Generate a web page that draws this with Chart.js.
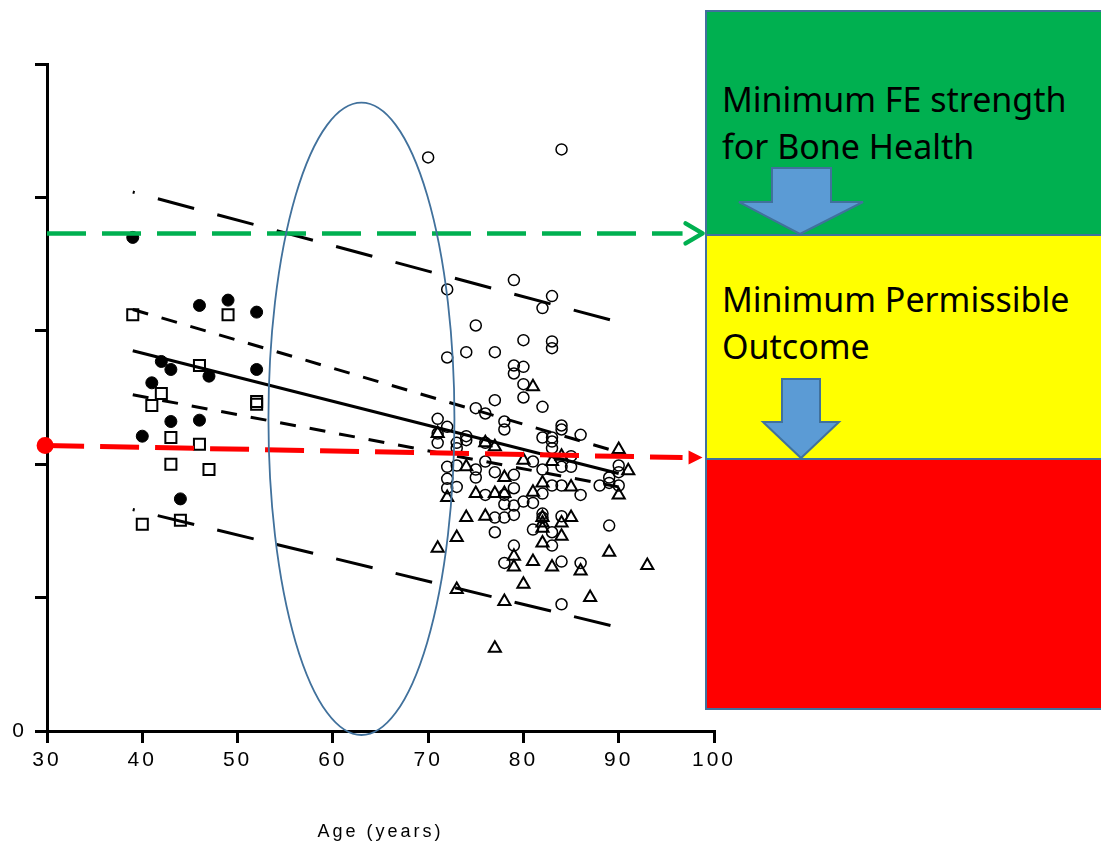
<!DOCTYPE html>
<html>
<head>
<meta charset="UTF-8">
<title>FE strength vs age</title>
<script src="https://cdn.jsdelivr.net/npm/chart.js@4"></script>
<style>
  body { margin: 0; background: #fff; }
  #wrap { position: relative; width: 1101px; height: 847px; overflow: hidden; }
  #chart { position: absolute; left: 0; top: 0; }
  .box { position: absolute; left: 705px; width: 398px; box-sizing: border-box; border: 2px solid #41719c; }
  .txt { position: absolute; left: 15px; font-family: "Noto Sans", "Open Sans", sans-serif; font-size: 34px; line-height: 47px; color: #000; }
  #arrows { position: absolute; left: 0; top: 0; }
</style>
</head>
<body>
<div id="wrap">
  <canvas id="chart" width="1101" height="847"></canvas>
  <div class="box" style="top:10px;height:226px;background:#00b050;">
    <div class="txt" style="top:64px;">Minimum FE strength<br>for Bone Health</div>
  </div>
  <div class="box" style="top:234px;height:226px;background:#ffff00;">
    <div class="txt" style="top:40px;">Minimum Permissible<br>Outcome</div>
  </div>
  <div class="box" style="top:458px;height:252px;background:#ff0000;"></div>
  <svg id="arrows" width="1101" height="847">
    <polygon points="772,168 831,168 831,202 863,202 800,234 739,202 772,202" fill="#5b9bd5" stroke="#41719c" stroke-width="2"/>
    <polygon points="782,379 820,379 820,422 839,422 801,458 763,422 782,422" fill="#5b9bd5" stroke="#41719c" stroke-width="2"/>
  </svg>
</div>
<script>
// --- data (age in years, FE strength in axis units) ---
const youngClosedAge = [39, 46, 49, 52, 42, 43, 41, 47, 52, 43, 46, 40, 44];
const youngClosedFE  = [3.70, 3.19, 3.23, 3.14, 2.77, 2.71, 2.61, 2.66, 2.71, 2.32, 2.33, 2.21, 1.74];

const youngSquareAge = [39, 49, 46, 42, 41, 52, 52, 43, 46, 43, 47, 40, 44];
const youngSquareFE  = [3.12, 3.12, 2.74, 2.53, 2.44, 2.45, 2.47, 2.20, 2.15, 2.00, 1.96, 1.55, 1.58];

const oldCircleAge = [70, 84, 79, 72, 83, 82, 75, 80, 83, 83, 72, 74, 77, 79, 80, 79, 80, 80, 77, 75,
  76, 82, 71, 72, 78, 78, 84, 84, 86, 74, 74, 71, 71, 73, 73, 76, 82, 83, 83, 83,
  85, 85, 84, 76, 81, 90, 90, 72, 73, 75, 75, 77, 79, 82, 72, 72, 73, 76, 78, 79,
  82, 83, 84, 86, 89, 89, 90, 88, 80, 78, 81, 79, 79, 78, 77, 82, 82, 81, 83, 84,
  83, 77, 79, 78, 84, 86, 89, 84];
const oldCircleFE = [4.30, 4.36, 3.38, 3.31, 3.26, 3.17, 3.04, 2.93, 2.92, 2.87, 2.80, 2.84, 2.84, 2.74, 2.73, 2.68, 2.60, 2.50, 2.48, 2.42,
  2.38, 2.43, 2.34, 2.28, 2.32, 2.26, 2.29, 2.26, 2.22, 2.21, 2.18, 2.23, 2.16, 2.16, 2.12, 2.16, 2.20, 2.20, 2.17, 2.12,
  2.06, 1.98, 1.98, 2.02, 2.02, 1.99, 1.94, 1.98, 1.99, 1.96, 1.90, 1.94, 1.92, 1.96, 1.89, 1.82, 1.83, 1.77, 1.77, 1.82,
  1.78, 1.84, 1.84, 1.77, 1.90, 1.86, 1.84, 1.84, 1.72, 1.70, 1.71, 1.69, 1.62, 1.60, 1.60, 1.63, 1.60, 1.51, 1.49, 1.61,
  1.39, 1.49, 1.39, 1.26, 1.27, 1.26, 1.54, 0.95];

const oldTriangleAge = [81, 71, 76, 77, 90, 84, 80, 83, 74, 78, 82, 85, 91, 90, 72, 75, 77, 78, 81, 74,
  76, 82, 82, 82, 85, 84, 82, 84, 73, 71, 79, 79, 81, 83, 86, 89, 93, 73, 80, 78, 87, 77];
const oldTriangleFE = [2.58, 2.23, 2.16, 2.13, 2.11, 2.06, 2.03, 2.02, 1.98, 1.90, 1.86, 1.83, 1.95, 1.77, 1.75, 1.78, 1.78, 1.78, 1.79, 1.60,
  1.61, 1.60, 1.56, 1.52, 1.60, 1.56, 1.41, 1.46, 1.45, 1.37, 1.31, 1.23, 1.27, 1.23, 1.20, 1.34, 1.24, 1.06, 1.10, 0.97, 1.00, 0.62];

// fitted lines: [age, FE] at both ends
const fitAge     = [39, 90];
const fitMean    = [2.85, 1.93];
const ciUpper    = [3.16, 2.09];
const ciLower    = [2.52, 1.83];
const piAge      = [39, 89.2];
const piUpper    = [4.04, 3.08];
const piLower    = [1.66, 0.79];

// threshold arrows
const greenLineAge = [30, 96.7];
const greenLineFE  = [3.73, 3.73];
const redLineAge   = [29.8, 96.7];
const redLineFE    = [2.14, 2.05];
const arrowTipAge  = 98.8;

// ellipse marking the 50-75 age gap (centre and radii in axis units)
const gapCentre = [63, 2.34];
const gapRadius = [9.76, 2.37];

const xTicks = [30, 40, 50, 60, 70, 80, 90, 100];

const pts = (xs, ys) => xs.map((x, i) => ({ x: x, y: ys[i] }));

function lineSet(xs, ys, dash, offset, order) {
  return {
    data: pts(xs, ys), showLine: true, pointRadius: 0, borderColor: '#000', borderWidth: 3,
    borderDash: dash, borderDashOffset: offset, order: order, clip: false
  };
}

const ellipsePlugin = {
  id: 'ellipseArrows',
  beforeDraw(chart) { chart.ctx.letterSpacing = '3px'; },
  afterDatasetsDraw(chart) {
    const { ctx, scales: { x, y } } = chart;
    ctx.save();
    ctx.letterSpacing = '0px';
    const cx = x.getPixelForValue(gapCentre[0]), cy = y.getPixelForValue(gapCentre[1]);
    const rx = x.getPixelForValue(gapCentre[0] + gapRadius[0]) - cx;
    const ry = cy - y.getPixelForValue(gapCentre[1] + gapRadius[1]);
    ctx.beginPath();
    ctx.ellipse(cx, cy, rx, ry, 0, 0, Math.PI * 2);
    ctx.strokeStyle = '#41719c';
    ctx.lineWidth = 1.8;
    ctx.stroke();

    // green open arrowhead
    const gx = x.getPixelForValue(arrowTipAge), gy = y.getPixelForValue(greenLineFE[1]);
    ctx.beginPath();
    ctx.moveTo(gx - 17, gy - 10);
    ctx.lineTo(gx, gy);
    ctx.lineTo(gx - 17, gy + 10);
    ctx.strokeStyle = '#00b050';
    ctx.lineWidth = 4.5;
    ctx.lineCap = 'round';
    ctx.lineJoin = 'round';
    ctx.stroke();

    // red filled arrowhead
    const rxp = x.getPixelForValue(arrowTipAge), ryp = y.getPixelForValue(redLineFE[1]);
    ctx.beginPath();
    ctx.moveTo(rxp, ryp);
    ctx.lineTo(rxp - 14, ryp - 7);
    ctx.lineTo(rxp - 14, ryp + 7);
    ctx.closePath();
    ctx.fillStyle = '#ff0000';
    ctx.fill();
    ctx.restore();
  }
};

new Chart(document.getElementById('chart'), {
  type: 'scatter',
  data: {
    datasets: [
      { data: pts(youngClosedAge, youngClosedFE), pointStyle: 'circle', pointRadius: 6,
        backgroundColor: '#000', borderColor: '#000', borderWidth: 1, order: 1 },
      { data: pts(youngSquareAge, youngSquareFE), pointStyle: 'rect', pointRadius: 7.8,
        backgroundColor: 'rgba(0,0,0,0)', borderColor: '#000', borderWidth: 2, order: 1 },
      { data: pts(oldCircleAge, oldCircleFE), pointStyle: 'circle', pointRadius: 5.5,
        backgroundColor: 'rgba(0,0,0,0)', borderColor: '#000', borderWidth: 1.5, order: 1 },
      { data: pts(oldTriangleAge, oldTriangleFE), pointStyle: 'triangle', pointRadius: 7,
        backgroundColor: 'rgba(0,0,0,0)', borderColor: '#000', borderWidth: 2, order: 1 },
      lineSet(fitAge, fitMean, [], 0, 2),
      lineSet(fitAge, ciUpper, [16, 14], 0, 2),
      lineSet(fitAge, ciLower, [16, 14], 0, 2),
      lineSet(piAge, piUpper, [37.5, 24], 35.5, 2),
      lineSet(piAge, piLower, [37.5, 23.7], 35.5, 2),
      { data: pts(greenLineAge, greenLineFE), showLine: true, pointRadius: 0, borderColor: '#00b050',
        borderWidth: 4.5, borderDash: [39, 16], order: 0, clip: false },
      { data: pts(redLineAge, redLineFE), showLine: true, borderColor: '#ff0000', borderWidth: 5,
        borderDash: [39, 16], pointRadius: [6, 0], pointBackgroundColor: '#ff0000',
        pointBorderColor: '#ff0000', order: 0, clip: false }
    ]
  },
  options: {
    responsive: false,
    animation: false,
    events: [],
    layout: { padding: { left: 0, top: 64, right: 387, bottom: 0 } },
    plugins: { legend: { display: false }, tooltip: { enabled: false } },
    scales: {
      x: {
        type: 'linear', min: 30, max: 100,
        afterBuildTicks: (s) => { s.ticks = xTicks.map(v => ({ value: v })); },
        afterFit: (s) => { s.height = 116; },
        ticks: { color: '#000', padding: 5, font: { family: '"Liberation Sans", Arial, sans-serif', size: 21 } },
        grid: { drawOnChartArea: false, drawTicks: true, tickLength: 12, color: '#000', lineWidth: 3 },
        border: { display: true, color: '#000', width: 3 },
        title: { display: true, text: 'Age (years)', color: '#000', padding: { top: 0, bottom: 4 },
          font: { family: '"Liberation Sans", Arial, sans-serif', size: 18 } }
      },
      y: {
        min: 0, max: 5,
        afterFit: (s) => { s.width = 47; },
        ticks: { stepSize: 1, color: '#000', padding: 8, callback: (v) => (v === 0 ? '0' : ''),
          font: { family: '"Liberation Sans", Arial, sans-serif', size: 21 } },
        grid: { drawOnChartArea: false, drawTicks: true, tickLength: 12, color: '#000', lineWidth: 3 },
        border: { display: true, color: '#000', width: 3 }
      }
    }
  },
  plugins: [ellipsePlugin]
});
</script>
</body>
</html>
